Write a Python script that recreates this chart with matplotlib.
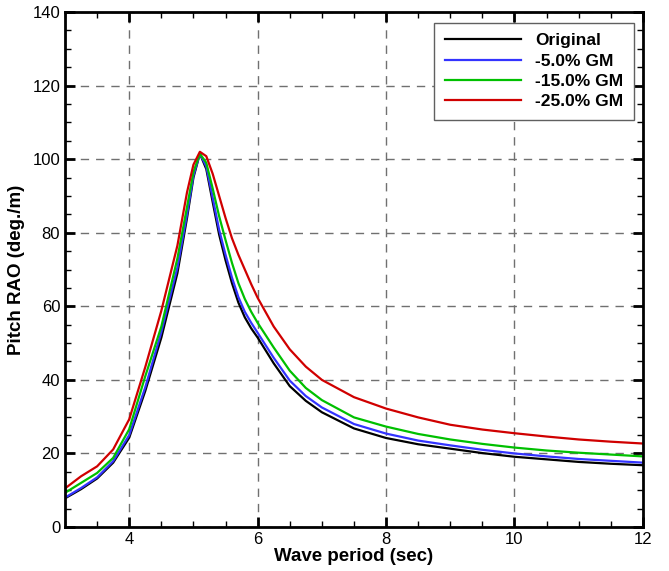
import matplotlib
matplotlib.use("Agg")
import matplotlib.pyplot as plt
from matplotlib.ticker import MultipleLocator

period = [3.0, 3.25, 3.5, 3.75, 4.0, 4.25, 4.5, 4.75, 4.9, 5.0, 5.1, 5.2, 5.3, 5.4,
          5.5, 5.6, 5.7, 5.8, 5.9, 6.0, 6.25, 6.5, 6.75, 7.0, 7.5, 8.0, 8.5, 9.0,
          9.5, 10.0, 10.5, 11.0, 11.5, 12.0]
original = [7.8, 10.3, 13.2, 17.5, 24.3, 37.0, 51.5, 69.0, 84.0, 95.0, 101.5, 97.3,
            88.3, 79.5, 72.5, 66.3, 61.0, 57.0, 54.0, 51.5, 44.5, 38.3, 34.3, 31.2,
            26.8, 24.2, 22.5, 21.3, 20.1, 19.1, 18.4, 17.7, 17.2, 16.8]
gm_5 = [8.0, 10.6, 13.5, 17.9, 25.0, 38.0, 53.0, 70.5, 85.0, 95.5, 101.5, 98.0,
        89.5, 80.8, 74.0, 67.8, 62.5, 58.5, 55.5, 52.8, 46.0, 39.8, 35.6, 32.5,
        28.0, 25.4, 23.5, 22.2, 21.0, 20.0, 19.2, 18.5, 18.0, 17.5]
gm_15 = [9.3, 12.0, 14.7, 18.8, 26.6, 41.0, 54.5, 73.0, 87.0, 96.5, 101.5, 99.0,
         92.0, 84.5, 78.0, 71.8, 66.3, 62.0, 58.5, 55.5, 48.8, 42.5, 37.8, 34.5,
         29.8, 27.3, 25.3, 23.8, 22.6, 21.6, 20.8, 20.2, 19.7, 19.2]
gm_25 = [10.5, 13.8, 16.5, 21.1, 29.3, 43.5, 58.8, 76.5, 91.0, 98.5, 102.0, 100.8,
         96.0, 90.0, 84.0, 78.5, 74.0, 70.0, 66.0, 62.3, 54.5, 48.3, 43.6, 40.0,
         35.3, 32.2, 29.8, 27.8, 26.5, 25.5, 24.6, 23.8, 23.2, 22.7]

labels = ["Original", "-5.0% GM", "-15.0% GM", "-25.0% GM"]
colors = ["#000000", "#3333ff", "#00c000", "#d00000"]

plt.rcParams['font.family'] = ['Liberation Sans', 'DejaVu Sans']

fig = plt.figure(figsize=(6.69, 5.71), dpi=100)
ax = fig.add_axes([0.0972, 0.077, 0.8638, 0.902])

for y, lab, c in zip([original, gm_5, gm_15, gm_25], labels, colors):
    ax.plot(period, y, color=c, lw=1.6, label=lab)

ax.set_xlim(3, 12)
ax.set_ylim(0, 140)
ax.xaxis.set_major_locator(MultipleLocator(2))
ax.xaxis.set_minor_locator(MultipleLocator(0.5))
ax.yaxis.set_major_locator(MultipleLocator(20))
ax.yaxis.set_minor_locator(MultipleLocator(5))
ax.grid(True, which='major', color='#707070', linestyle=(0, (6, 5)), lw=1.0)
ax.tick_params(which='both', direction='in', top=True, right=True, labelsize=12)
ax.tick_params(which='major', length=7, width=2)
ax.tick_params(which='minor', length=4, width=1)
for s in ax.spines.values():
    s.set_linewidth(2)

ax.set_xlabel("Wave period (sec)", fontsize=13.5, fontweight='bold', labelpad=1)
ax.set_ylabel("Pitch RAO (deg./m)", fontsize=13.5, fontweight='bold', labelpad=5)

leg = ax.legend(loc='upper right', bbox_to_anchor=(0.984, 0.979), borderaxespad=0,
                prop={'weight': 'bold', 'size': 12.5}, handlelength=4.4,
                handletextpad=0.8, labelspacing=0.3, borderpad=0.6,
                fancybox=False, framealpha=1, edgecolor='#606060')
leg.get_frame().set_linewidth(1.0)

fig.savefig("out.png", dpi=100)
